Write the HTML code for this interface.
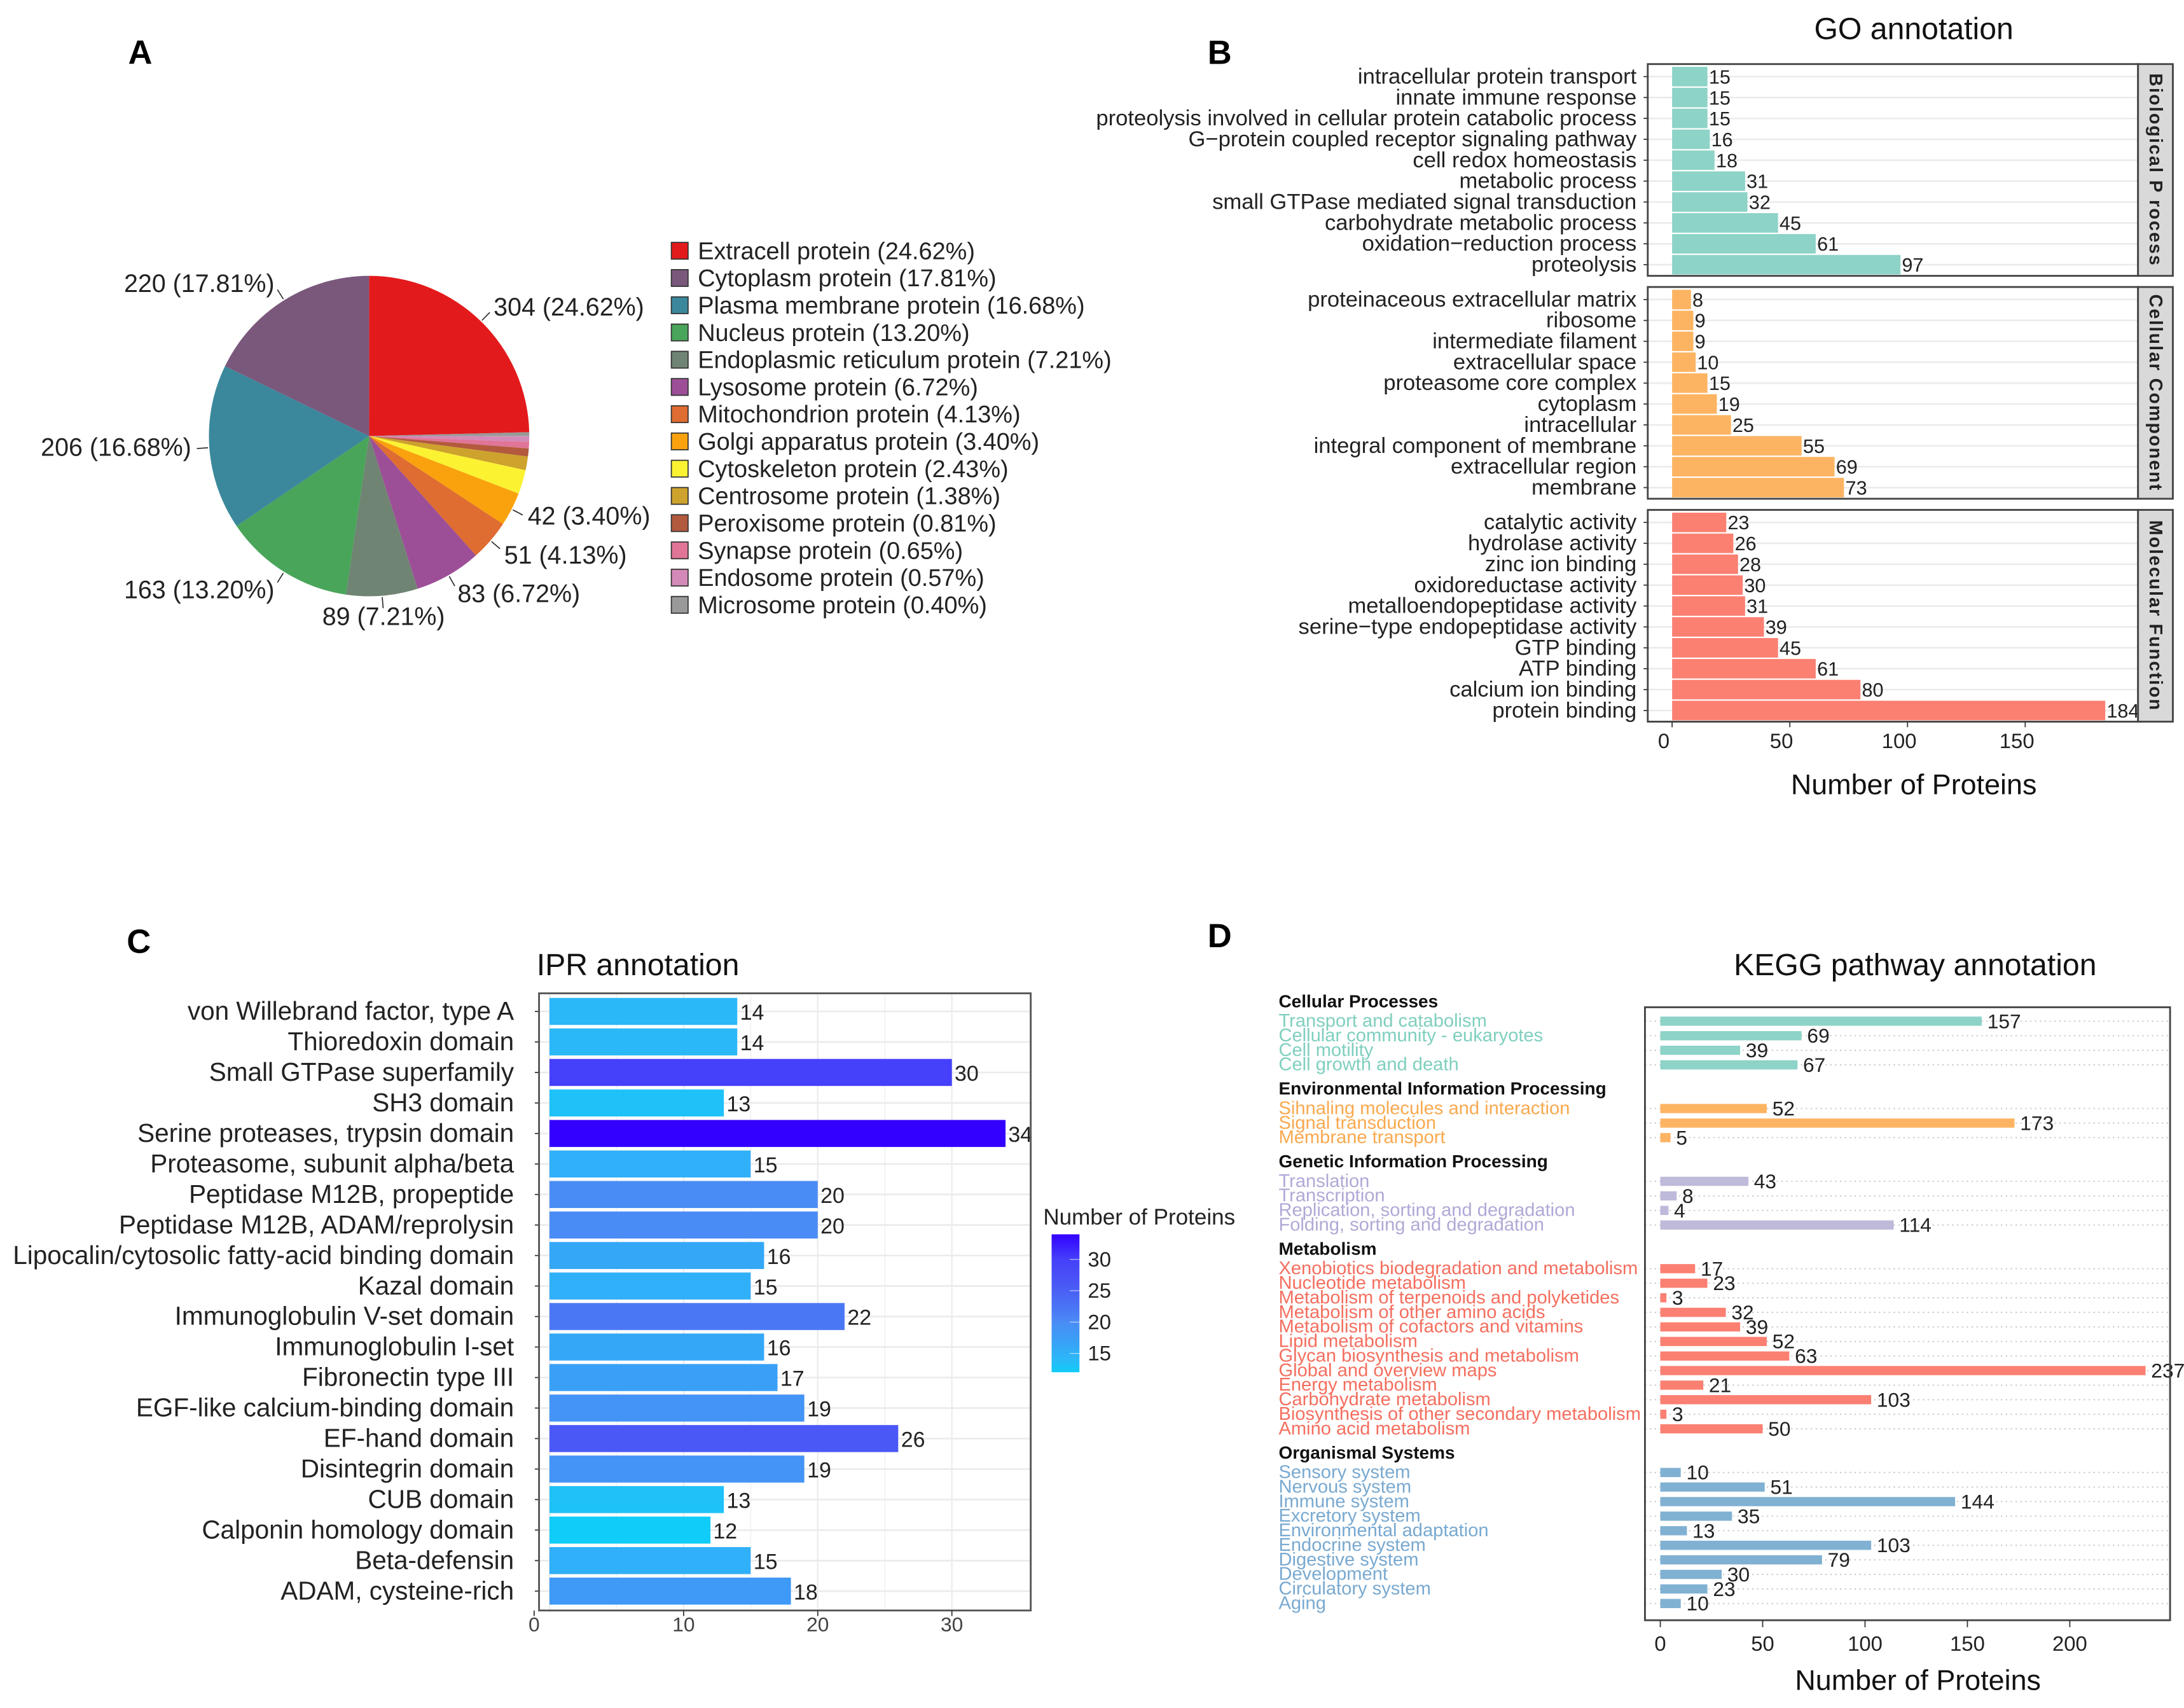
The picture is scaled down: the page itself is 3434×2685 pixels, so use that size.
<!DOCTYPE html>
<html><head><meta charset="utf-8">
<style>
html,body{margin:0;padding:0;background:#fff;}
svg{display:block;font-family:"Liberation Sans",sans-serif;}
</style></head>
<body>
<svg id="fig" xmlns="http://www.w3.org/2000/svg" width="3434" height="2685" viewBox="0 0 1568 1226">
<rect x="0" y="0" width="1568" height="1226" fill="#fff"/>
<text x="92" y="46" font-size="24" font-weight="bold">A</text>
<text x="867" y="46" font-size="24" font-weight="bold">B</text>
<text x="91" y="684" font-size="24" font-weight="bold">C</text>
<text x="867" y="680" font-size="24" font-weight="bold">D</text>
<g id="pieG"></g>
<g id="goG"></g>
<g id="iprG"></g>
<g id="keggG"></g>
</svg>
<script>
// ---------- data: pie ----------
const pieNames = ["Extracell protein","Cytoplasm protein","Plasma membrane protein","Nucleus protein","Endoplasmic reticulum protein","Lysosome protein","Mitochondrion protein","Golgi apparatus protein","Cytoskeleton protein","Centrosome protein","Peroxisome protein","Synapse protein","Endosome protein","Microsome protein"];
const pieCounts = [304,220,206,163,89,83,51,42,30,17,10,8,7,5];
const piePcts = ["24.62%","17.81%","16.68%","13.20%","7.21%","6.72%","4.13%","3.40%","2.43%","1.38%","0.81%","0.65%","0.57%","0.40%"];
const pieColors = ["#e31a1c","#7a587c","#3b889c","#49a55a","#708473","#9c4f97","#df6c31","#f9a20e","#fbf232","#cda22d","#b35a3e","#e07598","#d48ab8","#999999"];
const pieOrder = [0,13,12,11,10,9,8,7,6,5,4,3,2,1];
const pieLabelled = [0,1,2,3,4,5,6,7];

// ---------- data: GO ----------
const bpCats = ["intracellular protein transport","innate immune response","proteolysis involved in cellular protein catabolic process","G\u2212protein coupled receptor signaling pathway","cell redox homeostasis","metabolic process","small GTPase mediated signal transduction","carbohydrate metabolic process","oxidation\u2212reduction process","proteolysis"];
const bpVals = [15,15,15,16,18,31,32,45,61,97];
const ccCats = ["proteinaceous extracellular matrix","ribosome","intermediate filament","extracellular space","proteasome core complex","cytoplasm","intracellular","integral component of membrane","extracellular region","membrane"];
const ccVals = [8,9,9,10,15,19,25,55,69,73];
const mfCats = ["catalytic activity","hydrolase activity","zinc ion binding","oxidoreductase activity","metalloendopeptidase activity","serine\u2212type endopeptidase activity","GTP binding","ATP binding","calcium ion binding","protein binding"];
const mfVals = [23,26,28,30,31,39,45,61,80,184];
const goTicks = [0,50,100,150];

// ---------- data: IPR ----------
const iprCats = ["von Willebrand factor, type A","Thioredoxin domain","Small GTPase superfamily","SH3 domain","Serine proteases, trypsin domain","Proteasome, subunit alpha/beta","Peptidase M12B, propeptide","Peptidase M12B, ADAM/reprolysin","Lipocalin/cytosolic fatty-acid binding domain","Kazal domain","Immunoglobulin V-set domain","Immunoglobulin I-set","Fibronectin type III","EGF-like calcium-binding domain","EF-hand domain","Disintegrin domain","CUB domain","Calponin homology domain","Beta-defensin","ADAM, cysteine-rich"];
const iprVals = [14,14,30,13,34,15,20,20,16,15,22,16,17,19,26,19,13,12,15,18];
const iprTicks = [0,10,20,30];
const iprLegendTicks = [15,20,25,30];

// ---------- data: KEGG ----------
const keggGroups = ["Cellular Processes","Environmental Information Processing","Genetic Information Processing","Metabolism","Organismal Systems"];
const cpCats = ["Transport and catabolism","Cellular community - eukaryotes","Cell motility","Cell growth and death"];
const cpVals = [157,69,39,67];
const eipCats = ["Sihnaling molecules and interaction","Signal transduction","Membrane transport"];
const eipVals = [52,173,5];
const gipCats = ["Translation","Transcription","Replication, sorting and degradation","Folding, sorting and degradation"];
const gipVals = [43,8,4,114];
const metCats = ["Xenobiotics biodegradation and metabolism","Nucleotide metabolism","Metabolism of terpenoids and polyketides","Metabolism of other amino acids","Metabolism of cofactors and vitamins","Lipid metabolism","Glycan biosynthesis and metabolism","Global and overview maps","Energy metabolism","Carbohydrate metabolism","Biosynthesis of other secondary metabolism","Amino acid metabolism"];
const metVals = [17,23,3,32,39,52,63,237,21,103,3,50];
const osCats = ["Sensory system","Nervous system","Immune system","Excretory system","Environmental adaptation","Endocrine system","Digestive system","Development","Circulatory  system","Aging"];
const osVals = [10,51,144,35,13,103,79,30,23,10];
const keggTicks = [0,50,100,150,200];

const NS = "http://www.w3.org/2000/svg";
function mk(tag, attrs, parent, txt){
  const e = document.createElementNS(NS, tag);
  for (const k in attrs) e.setAttribute(k, attrs[k]);
  if (txt !== undefined) e.textContent = txt;
  parent.appendChild(e);
  return e;
}

// ================= PIE =================
(function(){
  const g = document.getElementById("pieG");
  const cx = 265, cy = 313, r = 115;
  const total = pieCounts.reduce((a,b)=>a+b,0);
  const pt = (a, rr) => [cx + rr*Math.sin(a*Math.PI/180), cy - rr*Math.cos(a*Math.PI/180)];
  let a0 = 0;
  const mids = {};
  pieOrder.forEach(i => {
    const sweep = pieCounts[i]/total*360;
    const a1 = a0 + sweep;
    const p0 = pt(a0, r), p1 = pt(a1, r);
    const large = sweep > 180 ? 1 : 0;
    const s = mk("path", {d:`M${cx},${cy} L${p0[0]},${p0[1]} A${r},${r} 0 ${large} 1 ${p1[0]},${p1[1]} Z`, fill:pieColors[i]}, g);
    
    
    mids[i] = (a0 + a1)/2;
    a0 = a1;
  });
  pieLabelled.forEach(i => {
    const m = mids[i];
    const p1 = pt(m, r+1), p2 = pt(m, r+9), p3 = pt(m, r+13);
    const ln = mk("line", {x1:p1[0], y1:p1[1], x2:p2[0], y2:p2[1], stroke:"#333", "stroke-width":0.8}, g);
    
    
    const s = Math.sin(m*Math.PI/180);
    let anchor = s > 0.3 ? "start" : (s < -0.3 ? "end" : "middle");
    let dy = 5;
    if (Math.cos(m*Math.PI/180) < -0.5) dy = 8;
    const t = mk("text", {x:p3[0], y:p3[1]+dy, "font-size":18, "text-anchor":anchor, fill:"#222"}, g, pieCounts[i] + " (" + piePcts[i] + ")");
    
    
  });
  pieNames.forEach((n, i) => {
    const y = 180 + i*19.55;
    const sq = mk("rect", {x:482, y:y-6, width:12, height:12, fill:pieColors[i], stroke:"#333", "stroke-width":0.8}, g);
    
    
    const t = mk("text", {x:501, y:y+6, "font-size":17.3, fill:"#222"}, g, n + " (" + piePcts[i] + ")");
    
    
  });
})();

// ================= GO =================
(function(){
  const g = document.getElementById("goG");
  const x0 = 1200.5, k = 1.69;
  const xs = v => x0 + v*k;
  const boxL = 1183, boxR = 1535, stripR = 1560;
  const panels = [
    {cats:bpCats, vals:bpVals, top:46, color:"#8dd3c7", strip:"Biological P rocess", name:"biological-process"},
    {cats:ccCats, vals:ccVals, top:206, color:"#fdb462", strip:"Cellular Component", name:"cellular-component"},
    {cats:mfCats, vals:mfVals, top:366, color:"#fb8072", strip:"Molecular Function", name:"molecular-function"}
  ];
  const ph = 152, rowH = 15;
  panels.forEach((p, pi) => {
    const pg = mk("g", {}, g);
    
    
    mk("rect", {x:boxL, y:p.top, width:boxR-boxL, height:ph, fill:"#fff"}, pg);
    p.cats.forEach((c, i) => {
      const yc = p.top + 9 + i*rowH;
      const gl = mk("line", {x1:boxL, x2:boxR, y1:yc, y2:yc, stroke:"#ebebeb", "stroke-width":1.2}, pg);
      
      
    });
    p.cats.forEach((c, i) => {
      const yc = p.top + 9 + i*rowH;
      const b = mk("rect", {x:x0, y:yc-7, width:xs(p.vals[i])-x0, height:14, fill:p.color}, pg);
      
      
      const vt = mk("text", {x:xs(p.vals[i])+1, y:yc+5, "font-size":14, fill:"#222"}, pg, String(p.vals[i]));
      
      
      const tk = mk("line", {x1:boxL-3, x2:boxL, y1:yc, y2:yc, stroke:"#333", "stroke-width":0.8}, pg);
      
      
      const ct = mk("text", {x:boxL-8, y:yc+5, "font-size":15.8, "text-anchor":"end", fill:"#222"}, pg, c);
      
      
    });
    const bx = mk("rect", {x:boxL, y:p.top, width:boxR-boxL, height:ph, fill:"none", stroke:"#444", "stroke-width":1.3}, pg);
    
    
    const st = mk("rect", {x:boxR, y:p.top, width:stripR-boxR, height:ph, fill:"#d9d9d9", stroke:"#444", "stroke-width":1.3}, pg);
    
    
    const sx = (boxR+stripR)/2, sy = p.top + ph/2;
    const stt = mk("text", {x:sx, y:sy, "font-size":13, "font-weight":"bold", "text-anchor":"middle", "dominant-baseline":"central", transform:`rotate(90 ${sx} ${sy})`, fill:"#222", "letter-spacing":"1"}, pg, p.strip);
    
    
  });
  goTicks.forEach(v => {
    const tl = mk("line", {x1:xs(v), x2:xs(v), y1:518, y2:522, stroke:"#333", "stroke-width":0.8}, g);
    
    
    const tt = mk("text", {x:xs(v)-6, y:537, "font-size":15, "text-anchor":"middle", fill:"#222"}, g, String(v));
    
    
  });
  const ti = mk("text", {x:1374, y:28, "font-size":22, "text-anchor":"middle", fill:"#111"}, g, "GO annotation");
  
  
  const xt = mk("text", {x:1374, y:570, "font-size":20.5, "text-anchor":"middle", fill:"#111"}, g, "Number of Proteins");
  
  
})();

// ================= IPR =================
function iprColor(v){
  const stops = [[12,[16,204,248]],[14,[43,184,248]],[17,[57,160,247]],[20,[74,140,245]],[22,[74,120,245]],[26,[74,88,245]],[30,[69,64,250]],[34,[51,0,255]]];
  if (v <= stops[0][0]) return `rgb(${stops[0][1].join(',')})`;
  for (let i=1;i<stops.length;i++){
    if (v <= stops[i][0]){
      const t = (v-stops[i-1][0])/(stops[i][0]-stops[i-1][0]);
      const c = stops[i-1][1].map((a,j)=>Math.round(a+(stops[i][1][j]-a)*t));
      return `rgb(${c.join(',')})`;
    }
  }
  return `rgb(${stops[stops.length-1][1].join(',')})`;
}
(function(){
  const g = document.getElementById("iprG");
  const x0 = 394.5, k = 9.63;
  const xs = v => x0 + v*k;
  const boxL = 387, boxR = 740, boxT = 713, boxB = 1156;
  const y0 = 726, pitch = 21.9;
  mk("rect", {x:boxL, y:boxT, width:boxR-boxL, height:boxB-boxT, fill:"#fff"}, g);
  [5,15,25].forEach(v => {
    mk("line", {x1:xs(v), x2:xs(v), y1:boxT, y2:boxB, stroke:"#f2f2f2", "stroke-width":0.8}, g);
  });
  iprTicks.forEach(v => {
    const gl = mk("line", {x1:xs(v), x2:xs(v), y1:boxT, y2:boxB, stroke:"#ebebeb", "stroke-width":1}, g);
    
    
  });
  iprCats.forEach((c, i) => {
    const yc = y0 + i*pitch;
    const gl = mk("line", {x1:boxL, x2:boxR, y1:yc, y2:yc, stroke:"#ebebeb", "stroke-width":1.2}, g);
    
    
  });
  iprCats.forEach((c, i) => {
    const yc = y0 + i*pitch;
    const b = mk("rect", {x:x0, y:yc-9.7, width:xs(iprVals[i])-x0, height:19.4, fill:iprColor(iprVals[i])}, g);
    
    
    const vt = mk("text", {x:xs(iprVals[i])+2, y:yc+6, "font-size":15.5, fill:"#222"}, g, String(iprVals[i]));
    
    
    const tk = mk("line", {x1:boxL-3, x2:boxL, y1:yc, y2:yc, stroke:"#333", "stroke-width":0.8}, g);
    
    
    const ct = mk("text", {x:boxL-18, y:yc+6, "font-size":18.5, "text-anchor":"end", fill:"#222"}, g, c);
    
    
  });
  const bx = mk("rect", {x:boxL, y:boxT, width:boxR-boxL, height:boxB-boxT, fill:"none", stroke:"#555", "stroke-width":1.3}, g);
  
  
  iprTicks.forEach(v => {
    const px = v === 0 ? 383.5 : xs(v);
    const tl = mk("line", {x1:px, x2:px, y1:boxB, y2:boxB+4, stroke:"#333", "stroke-width":0.8}, g);
    
    
    const tt = mk("text", {x:px, y:boxB+15, "font-size":14.5, "text-anchor":"middle", fill:"#444"}, g, String(v));
    
    
  });
  const ti = mk("text", {x:458, y:700, "font-size":22, "text-anchor":"middle", fill:"#111"}, g, "IPR annotation");
  
  
  const lt = mk("text", {x:749, y:879, "font-size":16, fill:"#222"}, g, "Number of Proteins");
  
  
  const cbT = 886, cbB = 985, vLo = 12, vHi = 34;
  const cy = v => cbB - (v - vLo)/(vHi - vLo)*(cbB - cbT);
  const defs = mk("defs", {}, g);
  const lg = mk("linearGradient", {id:"cbgrad", x1:0, y1:1, x2:0, y2:0}, defs);
  for (let v = vLo; v <= vHi; v += 2){
    mk("stop", {offset:((v-vLo)/(vHi-vLo)).toFixed(3), "stop-color":iprColor(v)}, lg);
  }
  const cb = mk("rect", {x:755, y:cbT, width:20, height:cbB-cbT, fill:"url(#cbgrad)"}, g);
  
  
  iprLegendTicks.forEach(v => {
    mk("line", {x1:768, x2:775, y1:cy(v), y2:cy(v), stroke:"#fff", "stroke-width":0.6, opacity:0.6}, g);
    const t = mk("text", {x:781, y:cy(v)+5, "font-size":15, fill:"#222"}, g, String(v));
    
    
  });
})();

// ================= KEGG =================
(function(){
  const g = document.getElementById("keggG");
  const x0 = 1192, k = 1.47;
  const xs = v => x0 + v*k;
  const boxL = 1181, boxR = 1558, boxT = 723, boxB = 1163;
  const groups = [
    {cats:cpCats, vals:cpVals, color:"#8dd3c7", label:"#7fcfbf"},
    {cats:eipCats, vals:eipVals, color:"#fdb462", label:"#f9a94f"},
    {cats:gipCats, vals:gipVals, color:"#bebada", label:"#b0a9d6"},
    {cats:metCats, vals:metVals, color:"#fb8072", label:"#f46f5f"},
    {cats:osCats, vals:osVals, color:"#80b1d3", label:"#79a9d0"}
  ];
  const yTop = 733, pitch = 10.45;
  mk("rect", {x:boxL, y:boxT, width:boxR-boxL, height:boxB-boxT, fill:"#fff"}, g);
  let slot = 0;
  groups.forEach((gr, gi) => {
    const firstY = yTop + slot*pitch;
    const ht = mk("text", {x:918, y:firstY-10, "font-size":12.8, "font-weight":"bold", fill:"#111"}, g, keggGroups[gi]);
    
    
    gr.cats.forEach((c, i) => {
      const yc = yTop + slot*pitch;
      const gl = mk("line", {x1:boxL, x2:boxR, y1:yc, y2:yc, stroke:"#c8c8c8", "stroke-width":0.9, "stroke-dasharray":"1 2.5"}, g);
      
      
      const b = mk("rect", {x:x0, y:yc-3.3, width:Math.max(0, xs(gr.vals[i])-x0), height:6.6, fill:gr.color}, g);
      
      
      const vt = mk("text", {x:xs(gr.vals[i])+4, y:yc+5, "font-size":14.5, fill:"#222"}, g, String(gr.vals[i]));
      
      
      const ct = mk("text", {x:918, y:yc+4, "font-size":13.3, fill:gr.label}, g, c);
      
      
      slot++;
    });
    slot += 2;
  });
  const bx = mk("rect", {x:boxL, y:boxT, width:boxR-boxL, height:boxB-boxT, fill:"none", stroke:"#444", "stroke-width":1.3}, g);
  
  
  keggTicks.forEach(v => {
    const tl = mk("line", {x1:xs(v), x2:xs(v), y1:boxB, y2:boxB+5, stroke:"#333", "stroke-width":0.8}, g);
    
    
    const tt = mk("text", {x:xs(v), y:boxB+22, "font-size":15, "text-anchor":"middle", fill:"#222"}, g, String(v));
    
    
  });
  const ti = mk("text", {x:1375, y:700, "font-size":22, "text-anchor":"middle", fill:"#111"}, g, "KEGG pathway annotation");
  
  
  const xt = mk("text", {x:1377, y:1213, "font-size":20.5, "text-anchor":"middle", fill:"#111"}, g, "Number of Proteins");
  
  
})();
</script>
</body></html>
